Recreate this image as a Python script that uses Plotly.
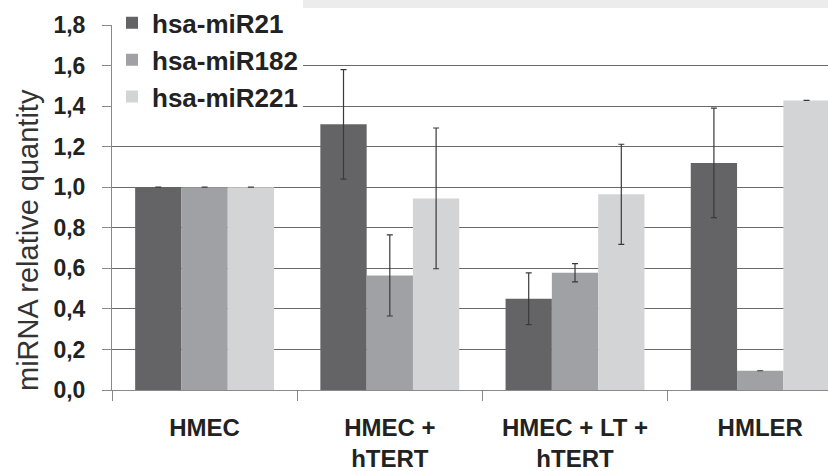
import plotly.graph_objects as go

categories = ["HMEC", "HMEC +<br>hTERT", "HMEC + LT +<br>hTERT", "HMLER"]
series_names = ["hsa-miR21", "hsa-miR182", "hsa-miR221"]
mir21 = [1.0, 1.31, 0.45, 1.12]
mir21_err = [0.0, 0.27, 0.128, 0.27]
mir182 = [1.0, 0.565, 0.578, 0.095]
mir182_err = [0.0, 0.2, 0.045, 0.0]
mir221 = [1.0, 0.945, 0.965, 1.428]
mir221_err = [0.0, 0.347, 0.247, 0.0]
y_ticks = [0.0, 0.2, 0.4, 0.6, 0.8, 1.0, 1.2, 1.4, 1.6, 1.8]
y_tick_labels = ["0,0", "0,2", "0,4", "0,6", "0,8", "1,0", "1,2", "1,4", "1,6", "1,8"]

colors = ["#646466", "#a0a1a5", "#d3d4d6"]
values = [mir21, mir182, mir221]
errors = [mir21_err, mir182_err, mir221_err]

FONT = "Liberation Sans, Arial, sans-serif"

fig = go.Figure()
for name, vals, errs, col in zip(series_names, values, errors, colors):
    fig.add_trace(go.Bar(
        name=name, x=categories, y=vals,
        marker=dict(color=col, line=dict(width=0)),
        error_y=dict(type="data", array=errs, visible=True,
                     color="#3a3a3a", thickness=1.2, width=3),
    ))

fig.update_layout(
    width=828, height=471,
    margin=dict(l=112, r=0, t=25, b=81, autoexpand=False),
    paper_bgcolor="white", plot_bgcolor="white",
    barmode="group", bargap=0.25, bargroupgap=0,
    font=dict(family=FONT, color="#222222"),
    showlegend=True,
    legend=dict(
        x=0.0, y=1.07, xanchor="left", yanchor="top",
        bgcolor="white", borderwidth=0,
        font=dict(family=FONT, size=26, color="#222222", weight="bold"),
        tracegroupgap=0, itemsizing="constant",
    ),
    xaxis=dict(
        range=[-0.5, 3.366], automargin=False,
        showgrid=False, showline=True, linecolor="#8a8a8a", linewidth=1,
        ticks="outside", ticklen=10, tickcolor="#8a8a8a", tickson="boundaries",
        tickfont=dict(family=FONT, size=24, color="#222222", weight="bold"),
        ticklabelstandoff=16,
    ),
    yaxis=dict(
        range=[0, 1.8], automargin=False,
        tickvals=y_ticks, ticktext=y_tick_labels,
        showgrid=True, gridcolor="#6a6a6a", gridwidth=1,
        showline=True, linecolor="#8a8a8a", linewidth=1,
        ticks="outside", ticklen=9, tickcolor="#8a8a8a",
        tickfont=dict(family=FONT, size=23, color="#222222", weight="bold"),
        ticklabelstandoff=12,
        zeroline=False,
    ),
    shapes=[dict(type="rect", xref="paper", yref="paper",
                 x0=(140 - 112) / 716, x1=1.0,
                 y0=(390 - 8) / 365, y1=390 / 365,
                 fillcolor="#ececec", line=dict(width=0), layer="above")],
    annotations=[dict(
        text="miRNA relative quantity", textangle=-90,
        xref="paper", yref="paper",
        x=(28 - 112) / 716, y=(390 - 240) / 365,
        xanchor="center", yanchor="middle", showarrow=False,
        font=dict(family=FONT, size=29, color="#333333"),
    )],
)

fig.write_html(
    "out.html",
    config={"displayModeBar": False},
    post_script="document.body.style.margin='0';document.body.style.overflow='hidden';",
)
